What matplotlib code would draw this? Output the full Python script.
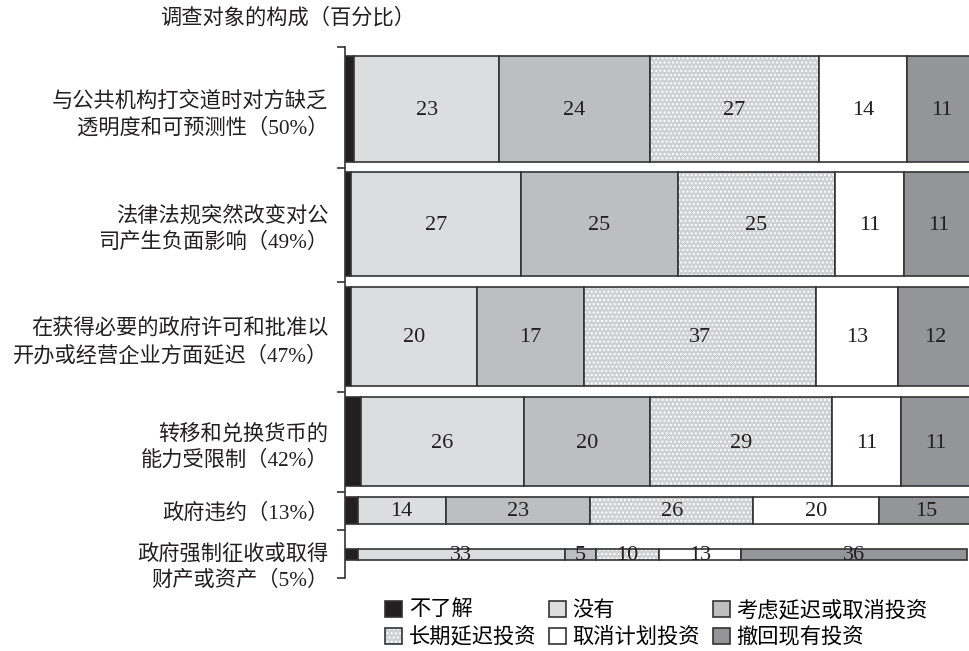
import numpy as np
import matplotlib.pyplot as plt
from matplotlib.patches import Patch

plt.rcParams['font.family'] = ['Liberation Serif', 'Noto Sans CJK SC']

categories = ['与公共机构打交道时对方缺乏\n透明度和可预测性（50%）',
              '法律法规突然改变对公\n司产生负面影响（49%）',
              '在获得必要的政府许可和批准以\n开办或经营企业方面延迟（47%）',
              '转移和兑换货币的\n能力受限制（42%）',
              '政府违约（13%）',
              '政府强制征收或取得\n财产或资产（5%）']
shares = [50, 49, 47, 42, 13, 5]

series_names = ['不了解', '没有', '考虑延迟或取消投资', '长期延迟投资', '取消计划投资', '撤回现有投资']
dont_know = [1.5, 1, 1, 2.5, 2, 2]
no_effect = [23, 27, 20, 26, 14, 33]
considered = [24, 25, 17, 20, 23, 5]
long_delay = [27, 25, 37, 29, 26, 10]
cancelled = [14, 11, 13, 11, 20, 13]
withdrawn = [11, 11, 12, 11, 15, 36]
values = [dont_know, no_effect, considered, long_delay, cancelled, withdrawn]

colors = ['#231f20', '#dcdddf', '#bcbec0', '#cfd0d2', '#ffffff', '#939598']
edge = '#333333'

# bar thickness follows the share, gaps are just spacing
gaps = [4.2, 4.8, 4.8, 5.1, 4.8, 11.8, 8.5]
heights = np.array(shares, dtype=float)
tops = gaps[0] + np.concatenate([[0], np.cumsum(heights[:-1] + np.array(gaps[1:-1]))])
centers = tops + heights / 2
bottoms = tops + heights
ymax = bottoms[-1] + gaps[-1]

fig = plt.figure(figsize=(9.7, 6.51), dpi=100)
ax = fig.add_axes([345 / 970, 1 - 578 / 651, 1 - 345 / 970, 531 / 651])

left = np.zeros(len(shares))
for i, vals in enumerate(values):
    vals = np.array(vals)
    if i == 3:
        ax.barh(centers, vals, height=heights, left=left, color=colors[i],
                edgecolor='white', hatch='....', linewidth=0)
        ax.barh(centers, vals, height=heights, left=left, color='none',
                edgecolor=edge, linewidth=1.2)
    else:
        ax.barh(centers, vals, height=heights, left=left, color=colors[i],
                edgecolor=edge, linewidth=1.2)
    if i > 0:
        for c, l, v in zip(centers, left, vals):
            ax.text(l + v / 2, c + 0.6, str(v), ha='center', va='center',
                    fontsize=16, color='#231f20', zorder=5)
    left += vals

ax.set_xlim(0, 99.5)
ax.set_ylim(ymax, 0)
for s in ['top', 'right', 'bottom']:
    ax.spines[s].set_visible(False)
ax.spines['left'].set_color(edge)
ax.spines['left'].set_linewidth(1.2)
ax.set_xticks([])
label_pos = centers.copy()
label_pos[-1] += 3.5
ax.set_yticks(label_pos)
ax.set_yticklabels(categories, fontsize=15.3, linespacing=1.4, color='#231f20')
ax.tick_params(axis='y', which='major', length=0, pad=12)
ax.set_yticks([0] + list(bottoms[:-1] + 2.6) + [ymax], minor=True)
ax.tick_params(axis='y', which='minor', length=6, width=1.2, color=edge)

fig.text(160 / 970, 1 - 18 / 651, '调查对象的构成（百分比）', fontsize=15.3,
         va='center', color='#231f20')

handles = []
for i, name in enumerate(series_names):
    if i == 3:
        h = (Patch(facecolor=colors[i], edgecolor='white', hatch='....', linewidth=0),
             Patch(facecolor='none', edgecolor=edge, linewidth=1.2))
    else:
        h = Patch(facecolor=colors[i], edgecolor=edge, linewidth=1.2)
    handles.append(h)
order = [0, 3, 1, 4, 2, 5]
fig.legend([handles[k] for k in order], [series_names[k] for k in order],
           ncol=3, loc='upper left', bbox_to_anchor=(377 / 970, 1 - 592 / 651),
           frameon=False, fontsize=15.3, handlelength=0.8, handleheight=0.8,
           handletextpad=0.3, columnspacing=0.6, labelspacing=0.3,
           borderaxespad=0)

fig.savefig('out.png', dpi=100)
